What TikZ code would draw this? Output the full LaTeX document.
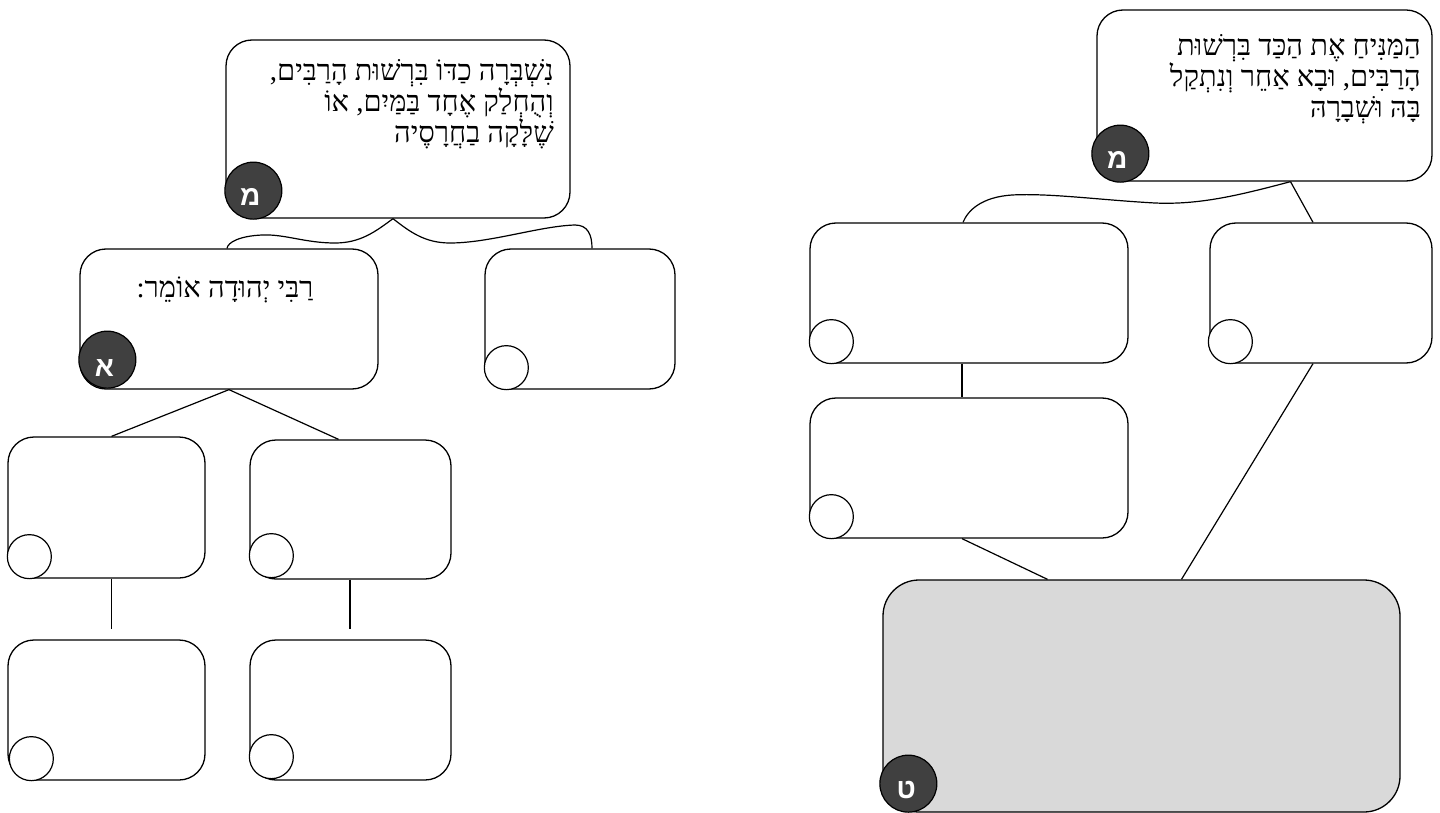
\documentclass[tikz,border=0pt]{standalone}
\usepackage{fontspec}
\TeXXeTstate=1
\newfontfamily\hebserif[Script=Hebrew]{Liberation Serif}
\newfontfamily\hebsans[Script=Hebrew]{Liberation Sans}
\usetikzlibrary{calc}
\definecolor{dotgray}{HTML}{404040}
\definecolor{boxgray}{HTML}{D9D9D9}
\begin{document}
\begin{tikzpicture}[x=1pt,y=-1pt,
  box/.style={draw, line width=1.3pt, rounded corners=26pt, inner sep=0pt, fill=white},
  bigbox/.style={box, rounded corners=36pt, fill=boxgray},
  smallc/.style={draw, circle, line width=1.2pt, minimum size=44pt, inner sep=0pt, fill=white},
  darkdot/.style={draw, circle, line width=1.2pt, minimum size=57pt, inner sep=0pt, fill=dotgray},
  dotletter/.style={text=white, font=\hebsans\bfseries\fontsize{28}{28}\selectfont, inner sep=0pt},
  heb/.style={font=\hebserif\fontsize{29}{32}\selectfont, inner sep=0pt},
  conn/.style={line width=1.2pt}]
\useasboundingbox (0,0) rectangle (1440,813);
\fill[white] (0,0) rectangle (1440,813);

% ---------- left tree ----------
\node[box, minimum width=344pt, minimum height=178pt] (mL) at (398,129) {};
\node[box, minimum width=298pt, minimum height=140pt] (A) at (229,319) {};
\node[box, minimum width=190pt, minimum height=140pt] (L2) at (580,319) {};
\node[box, minimum width=197pt, minimum height=141pt] (LL1) at (106.5,507.5) {};
\node[box, minimum width=201pt, minimum height=139pt] (LL2) at (350.5,509.5) {};
\node[box, minimum width=197pt, minimum height=140pt] (LL3) at (106.5,710) {};
\node[box, minimum width=201pt, minimum height=140pt] (LL4) at (350.5,710) {};

% ---------- right tree ----------
\node[box, minimum width=335pt, minimum height=171pt] (mR) at (1264.5,95.5) {};
\node[box, minimum width=318pt, minimum height=140pt] (R1) at (969,293) {};
\node[box, minimum width=222pt, minimum height=140pt] (R2) at (1321,293) {};
\node[box, minimum width=318pt, minimum height=140pt] (R3) at (969,468) {};
\node[bigbox, minimum width=517pt, minimum height=232pt] (T) at (1141.5,696) {};

% ---------- small empty circles ----------
\node[smallc] (cL2) at ($(L2.south west)+(22,-22)$) {};
\node[smallc] (cLL1) at ($(LL1.south west)+(22,-22)$) {};
\node[smallc] (cLL2) at ($(LL2.south west)+(22,-24)$) {};
\node[smallc] (cLL3) at ($(LL3.south west)+(24,-22)$) {};
\node[smallc] (cLL4) at ($(LL4.south west)+(22,-24)$) {};
\node[smallc] (cR1) at ($(R1.south west)+(22,-22)$) {};
\node[smallc] (cR2) at ($(R2.south west)+(21,-22)$) {};
\node[smallc] (cR3) at ($(R3.south west)+(22,-22)$) {};

% ---------- dark letter circles ----------
\node[darkdot] (dmL) at ($(mL.south west)+(28,-28)$) {};
\node[dotletter] (lmL) at ($(dmL.center)+(-3,6)$) {\beginR מ\endR};
\node[darkdot] (dA) at ($(A.south west)+(28,-30)$) {};
\node[dotletter] (lA) at ($(dA.center)+(-3,8)$) {\beginR א\endR};
\node[darkdot] (dmR) at ($(mR.south west)+(24,-28)$) {};
\node[dotletter] (lmR) at ($(dmR.center)+(-3,6)$) {\beginR מ\endR};
\node[darkdot] (dT) at ($(T.south west)+(26,-29)$) {};
\node[dotletter] (lT) at ($(dT.center)+(-2,6)$) {\beginR ט\endR};

% ---------- texts ----------
\node[heb, anchor=base east] (tL1) at (554,81) {\beginR נִשְׁבְּרָה כַדּוֹ בִּרְשׁוּת הָרַבִּים,\endR};
\node[heb, anchor=base east] (tL2) at (554,112) {\beginR וְהֻחְלַק אֶחָד בַּמַּיִם, אוֹ\endR};
\node[heb, anchor=base east] (tL3) at (554,143) {\beginR שֶׁלָּקָה בַחֲרָסֶיה\endR};
\node[heb, anchor=base] (tA) at (225,297) {\beginR רַבִּי יְהוּדָה אוֹמֵר:\endR};
\node[heb, anchor=base east] (tR1) at (1421,56) {\beginR הַמַּנִּיחַ אֶת הַכַּד בִּרְשׁוּת\endR};
\node[heb, anchor=base east] (tR2) at (1421,87) {\beginR הָרַבִּים, וּבָא אַחֵר וְנִתְקַל\endR};
\node[heb, anchor=base east] (tR3) at (1421,118) {\beginR בָּהּ וּשְׁבָרָהּ\endR};

% ---------- connectors, left ----------
\coordinate (tipL) at ($(mL.south)+(-5,0)$);
\coordinate (bAL) at ($(A.north)+(-2,0)$);
\coordinate (bL2) at ($(L2.north)+(12,0)$);
\draw[conn] (tipL) .. controls (375,232) and (360,243) .. (335,243)
  .. controls (305,243) and (285,234) .. (262,235)
  .. controls (240,236) and (228,242) .. (bAL);
\draw[conn] (tipL) .. controls (410,232) and (425,243) .. (450,243)
  .. controls (490,243) and (540,226) .. (575,225)
  .. controls (588,225) and (592,235) .. (bL2);
\draw[conn] (A.south) -- ($(LL1.north)+(5,0)$);
\draw[conn] (A.south) -- ($(LL2.north)+(-12,0)$);
\coordinate (eLL3) at ($(LL3.north)+(5,-10)$);
\coordinate (eLL4) at ($(LL4.north)+(-0.5,-10)$);
\draw[conn] ($(LL1.south)+(5,0)$) -- (eLL3);
\draw[conn] ($(LL2.south)+(-0.5,0)$) -- (eLL4);

% ---------- connectors, right ----------
\coordinate (tipR) at ($(mR.south)+(26,0)$);
\coordinate (bR1) at ($(R1.north)+(-6,0)$);
\draw[conn] (tipR) .. controls (1240,195) and (1200,205) .. (1155,203)
  .. controls (1100,200) and (1050,193) .. (1012,195)
  .. controls (982,197) and (968,210) .. (bR1);
\draw[conn] (tipR) -- ($(R2.north)+(-8,0)$);
\draw[conn] ($(R1.south)+(-7,0)$) -- ($(R3.north)+(-7,0)$);
\draw[conn] ($(R3.south)+(-7,0)$) -- ($(T.north)+(-94,0)$);
\draw[conn] ($(R2.south)+(-8,0)$) -- ($(T.north)+(40,0)$);
\end{tikzpicture}
\end{document}
